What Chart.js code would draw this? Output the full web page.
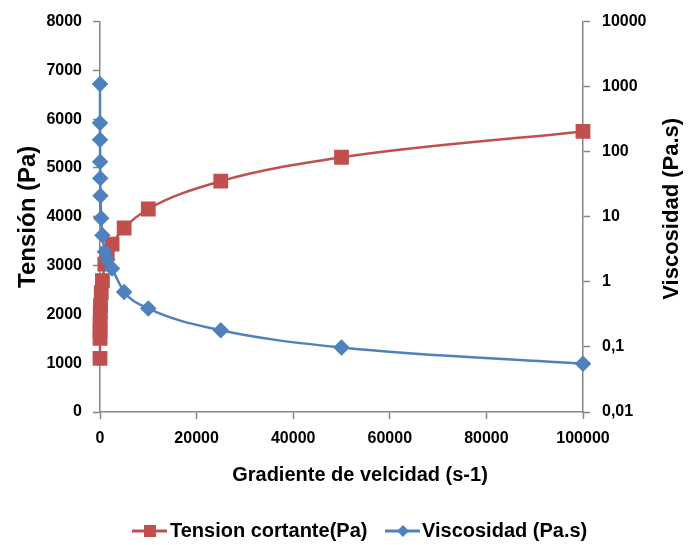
<!DOCTYPE html>
<html>
<head>
<meta charset="utf-8">
<script src="https://cdn.jsdelivr.net/npm/chart.js@4.4.0/dist/chart.umd.min.js"></script>
<style>
  body { margin: 0; background: #fff; }
  #wrap { width: 697px; height: 545px; position: relative; }
</style>
</head>
<body>
<div id="wrap"><canvas id="reologia"></canvas></div>
<script>
// datos
const gradiente = [1, 5, 10, 25, 50, 100, 250, 500, 1000, 1500, 2500, 5000, 10000, 25000, 50000, 100000];
const tension = [1100, 1510, 1670, 1830, 2020, 2180, 2440, 2690, 3030, 3240, 3440, 3770, 4160, 4730, 5220, 5750];
const viscosidad = [1100, 277, 153, 70, 39, 21, 9.5, 5.2, 2.9, 2.2, 1.6, 0.7, 0.39, 0.18, 0.098, 0.055];

const ticksTension = [0, 1000, 2000, 3000, 4000, 5000, 6000, 7000, 8000];
const ticksViscosidad = [0.01, 0.1, 1, 10, 100, 1000, 10000];
const ticksGradiente = [0, 20000, 40000, 60000, 80000, 100000];

const ROJO = '#C0504D';
const AZUL = '#4F81BD';
const GRIS = '#868686';
const FUENTE = '"Liberation Sans", Arial, sans-serif';

Chart.defaults.color = '#000';
Chart.defaults.font.family = FUENTE;

function puntos(ys) {
    return gradiente.map(function(x, i) { return { x: x, y: ys[i] }; });
}

// titulos (eje x y eje derecho de abajo hacia arriba) y leyenda al estilo Excel
const extras = {
    id: 'extras',
    afterDraw(chart) {
        const ctx = chart.ctx;
        const area = chart.chartArea;
        ctx.save();
        ctx.fillStyle = '#000';
        ctx.font = 'bold 22px ' + FUENTE;
        ctx.textAlign = 'center';
        ctx.textBaseline = 'middle';
        ctx.save();
        ctx.translate(672, (area.top + area.bottom) / 2 - 8);
        ctx.rotate(-Math.PI / 2);
        ctx.fillText('Viscosidad (Pa.s)', 0, 0);
        ctx.restore();
        ctx.font = 'bold 20px ' + FUENTE;
        ctx.fillText('Gradiente de velcidad (s-1)', 360, 475);
        ctx.restore();

        const y = 531;
        ctx.save();
        ctx.lineWidth = 3;
        // serie roja
        ctx.strokeStyle = ROJO;
        ctx.beginPath(); ctx.moveTo(132, y); ctx.lineTo(167, y); ctx.stroke();
        ctx.fillStyle = ROJO;
        ctx.fillRect(150 - 6, y - 6, 12, 12);
        // serie azul
        ctx.strokeStyle = AZUL;
        ctx.beginPath(); ctx.moveTo(385, y); ctx.lineTo(420, y); ctx.stroke();
        ctx.fillStyle = AZUL;
        ctx.beginPath();
        ctx.moveTo(403 - 6, y); ctx.lineTo(403, y - 6); ctx.lineTo(403 + 6, y); ctx.lineTo(403, y + 6);
        ctx.closePath(); ctx.fill();

        ctx.fillStyle = '#000';
        ctx.font = 'bold 20px ' + FUENTE;
        ctx.textAlign = 'left';
        ctx.textBaseline = 'middle';
        ctx.fillText('Tension cortante(Pa)', 170, y);
        ctx.fillText('Viscosidad (Pa.s)', 422, y);
        ctx.restore();
    }
};

const ctx = document.getElementById('reologia').getContext('2d');
new Chart(ctx, {
    type: 'line',
    data: {
        datasets: [{
            label: 'Tension cortante(Pa)',
            data: puntos(tension),
            yAxisID: 'y',
            borderColor: ROJO,
            backgroundColor: ROJO,
            borderWidth: 2.5,
            pointStyle: 'rect',
            pointRadius: 8.7,
            pointHoverRadius: 8.7,
            cubicInterpolationMode: 'monotone',
            clip: false,
            order: 1
        }, {
            label: 'Viscosidad (Pa.s)',
            data: puntos(viscosidad),
            yAxisID: 'y1',
            borderColor: AZUL,
            backgroundColor: AZUL,
            borderWidth: 2.5,
            pointStyle: 'rectRot',
            pointRadius: 6.5,
            pointHoverRadius: 6.5,
            cubicInterpolationMode: 'monotone',
            clip: false,
            order: 0
        }]
    },
    options: {
        responsive: true,
        maintainAspectRatio: false,
        animation: false,
        layout: { padding: { top: 19, left: 0, right: 0, bottom: 0 } },
        plugins: {
            legend: { display: false },
            tooltip: { enabled: false }
        },
        scales: {
            x: {
                type: 'linear',
                min: 0,
                max: 100000,
                afterFit: function(s) { s.height = 133; },
                afterBuildTicks: function(s) { s.ticks = ticksGradiente.map(function(v) { return { value: v }; }); },
                border: { color: GRIS, width: 1.5 },
                grid: { drawOnChartArea: false, tickLength: 7, color: GRIS, tickWidth: 1.5 },
                ticks: {
                    padding: 10,
                    maxRotation: 0,
                    font: { size: 16, weight: 'bold' },
                    callback: function(v) { return String(v); }
                }
            },
            y: {
                type: 'linear',
                position: 'left',
                min: 0,
                max: 8000,
                afterFit: function(s) { s.width = 100; },
                afterBuildTicks: function(s) { s.ticks = ticksTension.map(function(v) { return { value: v }; }); },
                border: { color: GRIS, width: 1.5 },
                grid: { drawOnChartArea: false, tickLength: 7, color: GRIS, tickWidth: 1.5 },
                ticks: {
                    padding: 11,
                    font: { size: 16, weight: 'bold' },
                    callback: function(v) { return String(v); }
                },
                title: {
                    display: true,
                    text: 'Tensión (Pa)',
                    font: { size: 24, weight: 'bold' },
                    padding: { top: 14, bottom: 0 }
                }
            },
            y1: {
                type: 'logarithmic',
                position: 'right',
                min: 0.01,
                max: 10000,
                afterFit: function(s) { s.width = 114; },
                afterBuildTicks: function(s) { s.ticks = ticksViscosidad.map(function(v) { return { value: v }; }); },
                border: { color: GRIS, width: 1.5 },
                grid: { drawOnChartArea: false, tickLength: 7, color: GRIS, tickWidth: 1.5 },
                ticks: {
                    padding: 12,
                    font: { size: 16, weight: 'bold' },
                    callback: function(v) { return String(v).replace('.', ','); }
                }
            }
        }
    },
    plugins: [extras]
});
</script>
</body>
</html>
